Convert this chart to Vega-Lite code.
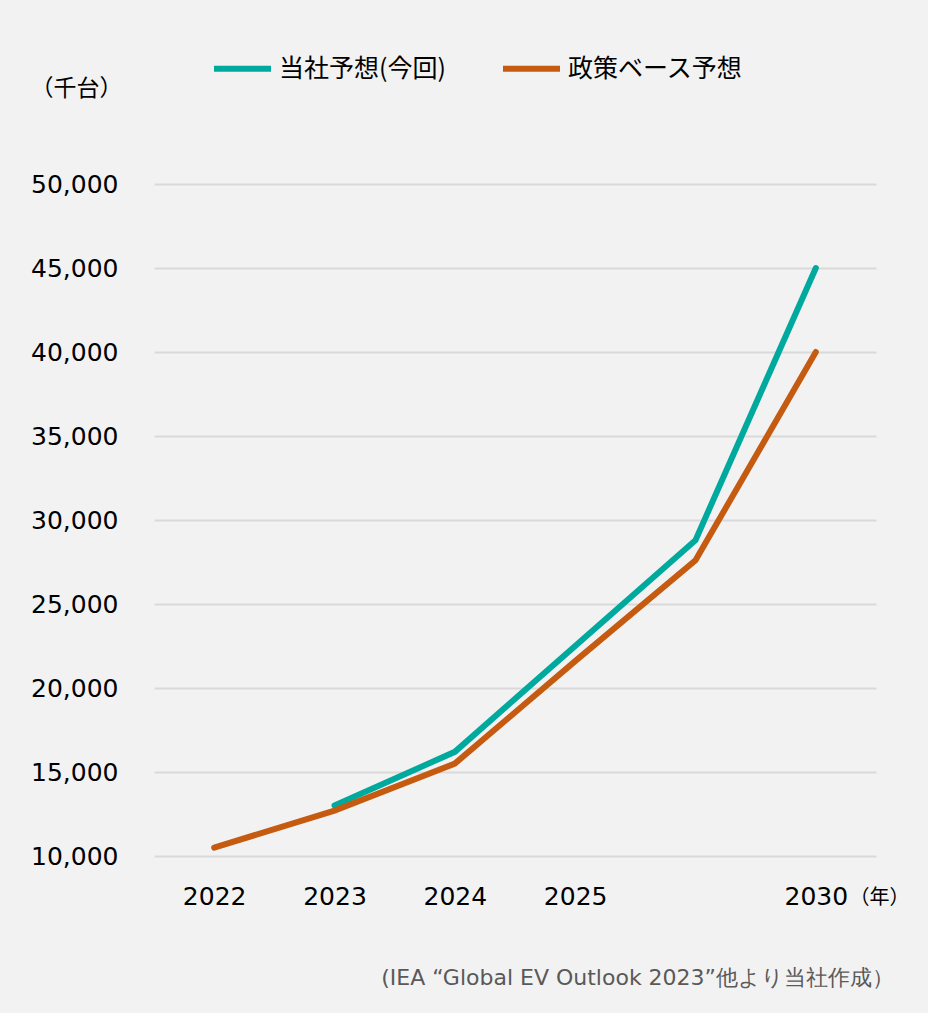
{
  "$schema": "https://vega.github.io/schema/vega-lite/v6.json",
  "width": 722,
  "height": 672,
  "autosize": {"type": "none"},
  "padding": {"left": 154, "top": 184, "right": 52, "bottom": 157},
  "background": "#f2f2f2",
  "config": {"view": {"stroke": null}},
  "title": {
    "text": "(IEA “Global EV Outlook 2023”他より当社作成）",
    "orient": "bottom",
    "anchor": "end",
    "frame": "group",
    "font": "DejaVu Sans",
    "fontSize": 22,
    "fontWeight": "normal",
    "color": "#595959",
    "offset": 59,
    "dx": 18
  },
  "data": {
    "values": [
      {"year": "2023", "series": "当社予想(今回)", "value": 13000},
      {"year": "2024", "series": "当社予想(今回)", "value": 16200},
      {"year": "2025", "series": "当社予想(今回)", "value": 22500},
      {"year": "2026", "series": "当社予想(今回)", "value": 28800},
      {"year": "2030", "series": "当社予想(今回)", "value": 45000},
      {"year": "2022", "series": "政策ベース予想", "value": 10500},
      {"year": "2023", "series": "政策ベース予想", "value": 12700},
      {"year": "2024", "series": "政策ベース予想", "value": 15500},
      {"year": "2025", "series": "政策ベース予想", "value": 21600},
      {"year": "2026", "series": "政策ベース予想", "value": 27600},
      {"year": "2030", "series": "政策ベース予想", "value": 40000}
    ]
  },
  "mark": {"type": "line", "strokeWidth": 6, "strokeCap": "round", "strokeJoin": "miter"},
  "encoding": {
    "x": {
      "field": "year",
      "type": "ordinal",
      "sort": ["2022", "2023", "2024", "2025", "2026", "2030"],
      "scale": {"type": "point", "padding": 0.5},
      "axis": {
        "title": "（年）",
        "titleFont": "Noto Sans CJK JP",
        "titleFontSize": 20,
        "titleFontWeight": "normal",
        "titleColor": "#000000",
        "titleAngle": 0,
        "titleAlign": "center",
        "titleBaseline": "middle",
        "titleX": 725,
        "titleY": 41,
        "labelExpr": "datum.label == '2026' ? '' : datum.label",
        "labelFont": "DejaVu Sans",
        "labelFontSize": 25,
        "labelColor": "#000000",
        "labelAngle": 0,
        "labelPadding": 28,
        "domain": false,
        "ticks": false,
        "grid": false
      }
    },
    "y": {
      "field": "value",
      "type": "quantitative",
      "scale": {"domain": [10000, 50000], "nice": false, "zero": false},
      "axis": {
        "values": [10000, 15000, 20000, 25000, 30000, 35000, 40000, 45000, 50000],
        "format": ",d",
        "title": "（千台）",
        "titleFont": "Noto Sans CJK JP",
        "titleFontSize": 23,
        "titleFontWeight": "normal",
        "titleColor": "#000000",
        "titleAngle": 0,
        "titleAlign": "center",
        "titleBaseline": "middle",
        "titleX": -78,
        "titleY": -96,
        "labelFont": "DejaVu Sans",
        "labelFontSize": 25,
        "labelColor": "#000000",
        "labelPadding": 36,
        "domain": false,
        "ticks": false,
        "grid": true,
        "gridColor": "#d9d9d9",
        "gridWidth": 2
      }
    },
    "color": {
      "field": "series",
      "type": "nominal",
      "scale": {"domain": ["当社予想(今回)", "政策ベース予想"], "range": ["#00a99d", "#c55a11"]},
      "legend": {
        "title": null,
        "orient": "none",
        "direction": "horizontal",
        "legendX": 57,
        "legendY": -147,
        "symbolType": "stroke",
        "symbolSize": 3249,
        "symbolStrokeWidth": 6,
        "labelFont": "Noto Sans CJK JP",
        "labelFontSize": 25,
        "labelColor": "#000000",
        "labelOffset": 5,
        "columnPadding": 45,
        "labelLimit": 400
      }
    }
  }
}
